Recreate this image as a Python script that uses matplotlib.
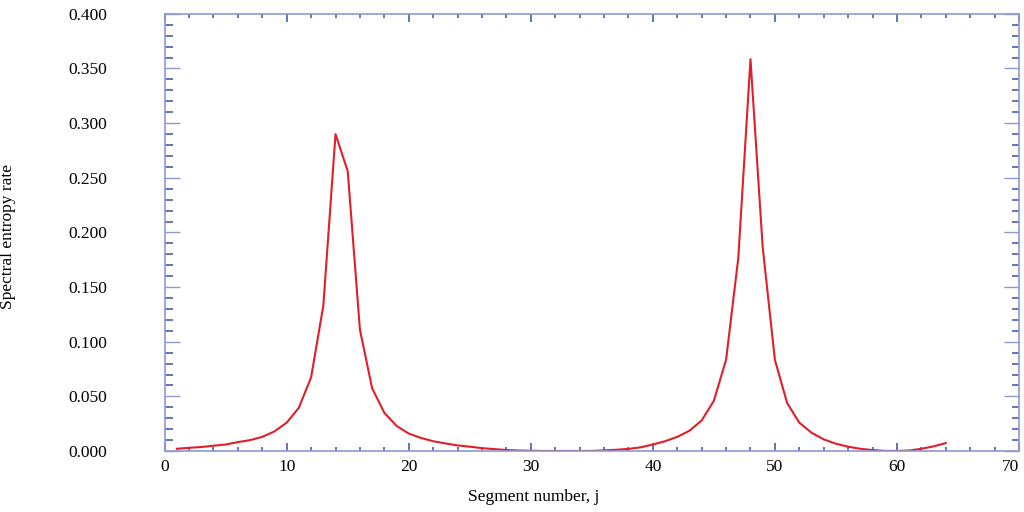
import matplotlib
matplotlib.use("Agg")
import matplotlib.pyplot as plt
from matplotlib.ticker import MultipleLocator, FormatStrFormatter

segments = list(range(1, 65))
entropy_rate = [
    0.0021, 0.0030, 0.0037, 0.0049, 0.0060, 0.0082, 0.0100, 0.0130, 0.0180, 0.0260,
    0.0397, 0.0675, 0.1330, 0.2900, 0.2560, 0.1110, 0.0574, 0.0350, 0.0230, 0.0160,
    0.0120, 0.0090, 0.0070, 0.0052, 0.0040, 0.0027, 0.0018, 0.0010, 0.0005, 0.0003,
    0.0001, 0.0001, 0.0001, 0.0001, 0.0002, 0.0006, 0.0012, 0.0020, 0.0034, 0.0060,
    0.0090, 0.0130, 0.0186, 0.0280, 0.0460, 0.0835, 0.1765, 0.3585, 0.1865, 0.0835,
    0.0440, 0.0260, 0.0168, 0.0107, 0.0067, 0.0040, 0.0021, 0.0009, 0.0002, 0.0001,
    0.0005, 0.0021, 0.0043, 0.0073,
]
x_ticks = [0, 10, 20, 30, 40, 50, 60, 70]
x_label = "Segment number, j"
y_label = "Spectral entropy rate"

plt.rcParams['font.family'] = ['Liberation Serif', 'DejaVu Serif']

fig = plt.figure(figsize=(10.24, 5.12), dpi=100)
ax = fig.add_axes([0.1608, 0.119, 0.8343, 0.854])

ax.plot(segments, entropy_rate, color='#e01f2a', linewidth=1.5)

ax.set_xlim(0, 70)
ax.set_ylim(0, 0.4)
ax.set_xticks(x_ticks)
ax.set_xticklabels([str(t) for t in x_ticks])
ax.xaxis.set_minor_locator(MultipleLocator(2))
ax.yaxis.set_major_locator(MultipleLocator(0.05))
ax.yaxis.set_minor_locator(MultipleLocator(0.01))
ax.yaxis.set_major_formatter(FormatStrFormatter('%.3f'))

blue = '#4a5db3'
light = '#8c9ad2'
for sp in ax.spines.values():
    sp.set_color(light)
    sp.set_linewidth(1.2)

ax.tick_params(axis='x', which='major', direction='in', length=5.8, width=1.2,
               color=blue, top=True, labelsize=12.5, pad=6)
ax.tick_params(axis='x', which='minor', direction='in', length=3.0, width=1.2,
               color=blue, top=True)
ax.tick_params(axis='y', which='major', direction='in', length=10.8, width=1.0,
               color=light, right=True, labelsize=12.5, pad=41.5)
ax.tick_params(axis='y', which='minor', direction='in', length=5.4, width=1.2,
               color=blue, right=True)

ax.set_xlabel(x_label, fontsize=12.5)
ax.xaxis.label.set_va('center')
ax.xaxis.set_label_coords(0.432, -0.105)
ax.set_ylabel(y_label, fontsize=12.5)
ax.yaxis.label.set_va('center')
ax.yaxis.set_label_coords(-0.183, 0.49)

last_tick = ax.xaxis.get_major_ticks()[-1]
last_tick.label1.set_horizontalalignment('right')

fig.savefig('out.png', dpi=100)
